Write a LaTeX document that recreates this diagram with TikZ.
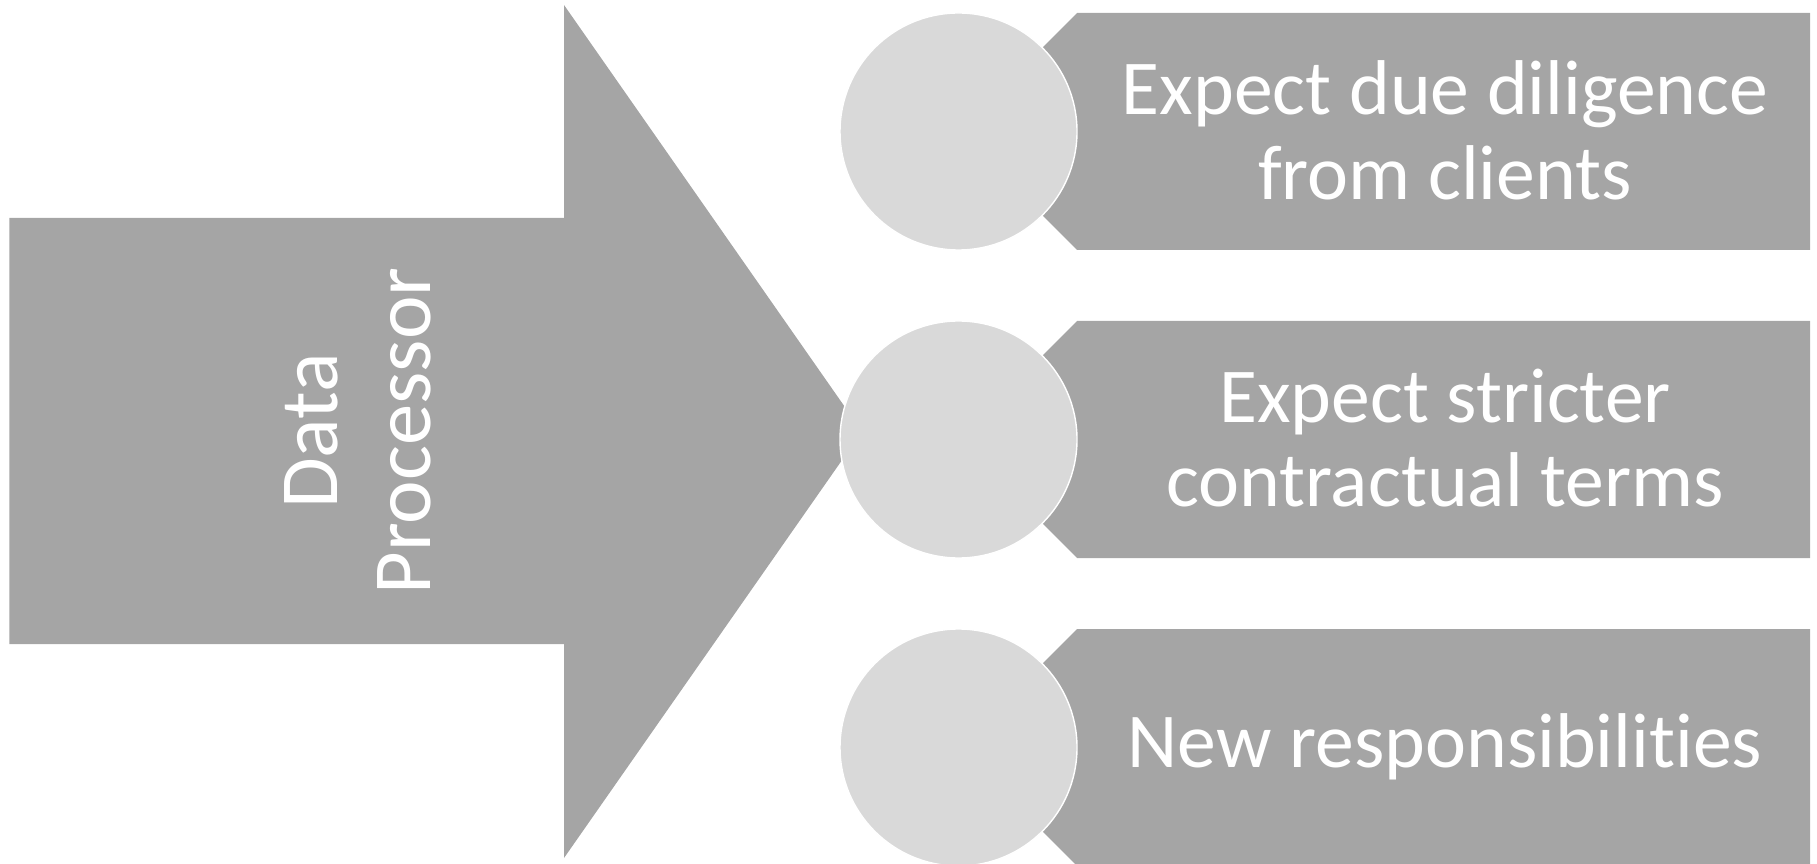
\documentclass[tikz,border=0pt]{standalone}
\usepackage{fontspec}
\setmainfont{Carlito}[Ligatures=NoCommon]
\usetikzlibrary{positioning}
\definecolor{darkgrey}{HTML}{A5A5A5}
\definecolor{lightgrey}{HTML}{D9D9D9}

\begin{document}
\begin{tikzpicture}[
	bar/.style={fill=darkgrey, draw=none},
	bubble/.style={circle, fill=lightgrey, draw=white, line width=0.4pt, minimum size=2.37cm, inner sep=0pt},
	label/.style={text=white, align=center, font=\fontsize{22.1}{24.1}\selectfont}]
		\useasboundingbox (0,0) rectangle (18.17,8.63);
		% big arrow
		\fill[darkgrey] (0.093,2.19) -- (0.093,6.45) -- (5.64,6.45) -- (5.64,8.58)
			-- (8.62,4.315) -- (5.64,0.05) -- (5.64,2.19) -- cycle;
		\node (dp) [text=white, align=center, rotate=90, font=\fontsize{23.5}{26.5}\selectfont] at (3.58,4.32) {Data\\Processor};
		% bars
		\path[bar] (9.585,7.315) -- (10.77,8.50) -- (18.10,8.50) -- (18.10,6.13) -- (10.77,6.13) -- cycle;
		\path[bar] (9.585,4.235) -- (10.77,5.42) -- (18.10,5.42) -- (18.10,3.05) -- (10.77,3.05) -- cycle;
		\path[bar] (9.585,1.155) -- (10.77,2.34) -- (18.10,2.34) -- (18.10,-0.03) -- (10.77,-0.03) -- cycle;
		% bubbles
		\node (c1) [bubble] at (9.585,7.315) {};
		\node (c2) [bubble] at (9.585,4.235) {};
		\node (c3) [bubble] at (9.585,1.155) {};
		% texts
		\node (t1) [label] at (14.45,7.33) {Expect due diligence\\from clients};
		\node (t2) [label] at (14.45,4.25) {Expect stricter\\contractual terms};
		\node (t3) [label] at (14.45,1.16) {New responsibilities};
	\end{tikzpicture}
\end{document}
